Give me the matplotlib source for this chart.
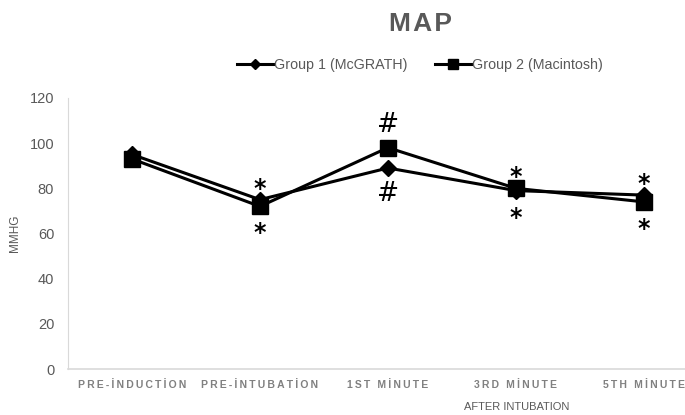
import matplotlib
matplotlib.use("Agg")
import matplotlib.pyplot as plt

plt.rcParams['font.family'] = ['Liberation Sans', 'DejaVu Sans']

# time points
stages = ["PRE-İNDUCTİON", "PRE-İNTUBATİON", "1ST MİNUTE", "3RD MİNUTE", "5TH MİNUTE"]

# mean arterial pressure (mmHg)
group1 = [95, 75, 89, 79, 77]   # McGRATH
group2 = [93, 72, 98, 80, 74]   # Macintosh

# significance marks above / below each stage
marks_top = ["", "*", "#", "*", "*"]
marks_bottom = ["", "*", "#", "*", "*"]

# (offset above, offset below) in points for each symbol
mark_offsets = {"*": (8, -19.5), "#": (16, -18.5)}
mark_sizes = {"*": 17, "#": 19}
mark_weights = {"*": "bold", "#": "normal"}


def spaced(s):
    # widen the letter spacing of the category labels
    return "\u2009".join(s)


fig = plt.figure(figsize=(6.85, 4.15), dpi=100)
ax = fig.add_axes([0.0993, 0.1108, 0.934, 0.6531])

x = range(len(stages))
ax.plot(x, group1, color="black", lw=2.2, marker="D", ms=8.5,
        label="Group 1 (McGRATH)", zorder=3)
ax.plot(x, group2, color="black", lw=2.2, marker="s", ms=11,
        label="Group 2 (Macintosh)", zorder=3)

for i in x:
    hi = max(group1[i], group2[i])
    lo = min(group1[i], group2[i])
    for m, y, k in [(marks_top[i], hi, 0), (marks_bottom[i], lo, 1)]:
        if not m:
            continue
        ax.annotate(m, (i, y), xytext=(0, mark_offsets[m][k]), textcoords="offset points",
                    ha="center", va="center", fontsize=mark_sizes[m],
                    fontweight=mark_weights[m], family="DejaVu Sans")

ax.set_xlim(-0.5, len(stages) - 0.5)
ax.set_ylim(0, 120)
ax.set_yticks(range(0, 121, 20))
ax.set_xticks(list(x))
ax.set_xticklabels([spaced(s) for s in stages], fontsize=7.5, fontweight="bold",
                   color="#808080")
ax.tick_params(axis="y", length=0, pad=10, labelsize=10.5, labelcolor="#595959")
ax.tick_params(axis="x", length=0, pad=8)

for side in ["top", "right"]:
    ax.spines[side].set_visible(False)
ax.spines["left"].set_color("#d9d9d9")
ax.spines["bottom"].set_color("#d9d9d9")
ax.spines["bottom"].set_linewidth(1.2)

ax.set_ylabel("MMHG", fontsize=8.5, color="#595959", labelpad=6)

fig.text(0.614, 0.942, "M\u200aA\u200aP", ha="center", va="center", fontsize=19,
         fontweight="bold", color="#595959")
fig.text(0.755, 0.019, "AFTER INTUBATION", ha="center", va="center",
         fontsize=8, color="#595959")

fig.legend(loc="center", bbox_to_anchor=(0.613, 0.843), ncol=2, frameon=False,
           fontsize=10.3, handlelength=2.5, handletextpad=0.1, columnspacing=1.9,
           markerscale=0.6, labelcolor="#595959")

fig.savefig("out.png", dpi=100)
